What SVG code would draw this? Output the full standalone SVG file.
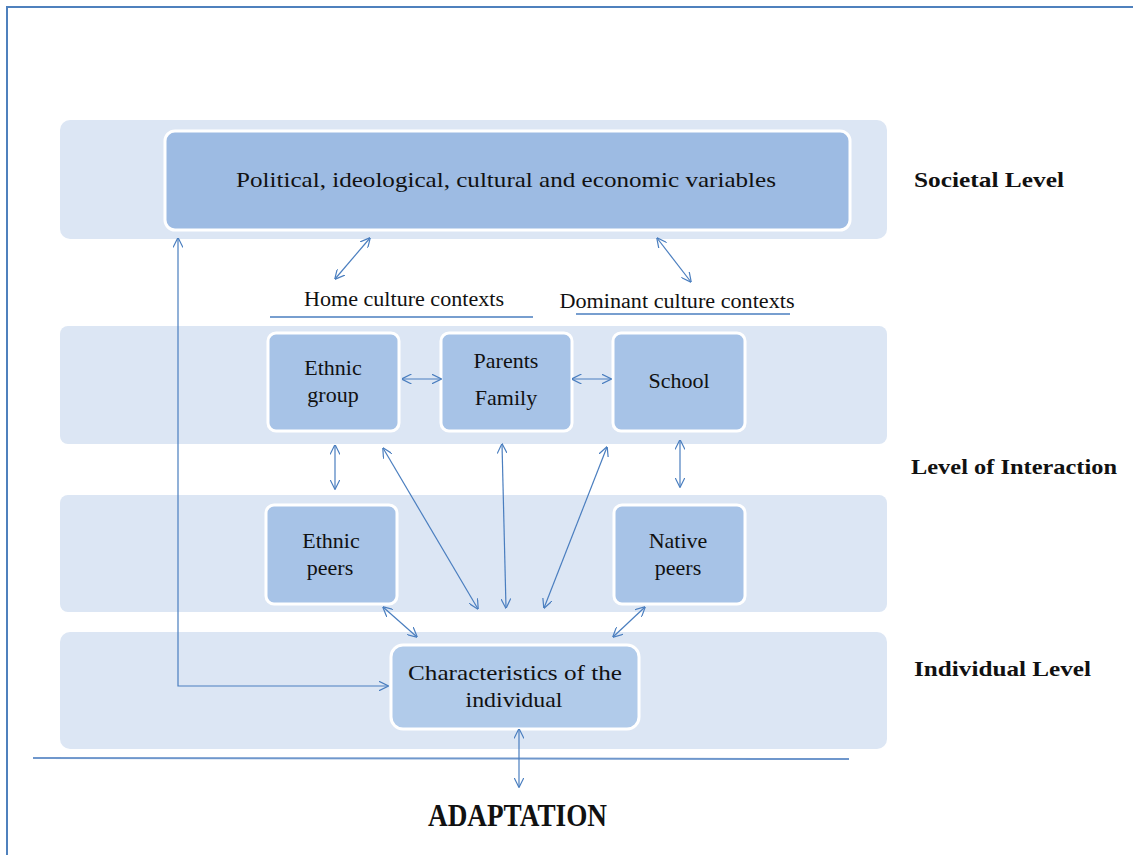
<svg xmlns="http://www.w3.org/2000/svg" width="1133" height="855" viewBox="0 0 1133 855">
<defs>
<marker id="ah" viewBox="0 0 10 10" refX="9.5" refY="5" markerWidth="10" markerHeight="10" markerUnits="userSpaceOnUse" orient="auto-start-reverse">
<path d="M0,0 L10,5 L0,10" fill="none" stroke="#4a7ebf" stroke-width="1.2"/>
</marker>
</defs>
<style>
.band{fill:#dce6f4}
.node{stroke:#ffffff;stroke-width:3}
.n1{fill:#9dbbe3}
.n2{fill:#a7c3e7}
.t{font-family:"Liberation Serif",serif;font-size:22px;fill:#111;text-anchor:middle}
.lbl{font-family:"Liberation Serif",serif;font-size:22px;font-weight:bold;fill:#111}
.c{fill:none;stroke:#4a7ebf;stroke-width:1.2;marker-start:url(#ah);marker-end:url(#ah)}
.ln{stroke:#4a7ebf;stroke-width:1.3}
</style>
<rect x="0" y="0" width="1133" height="855" fill="#ffffff"/>
<path d="M7,855 L7,7 L1133,7" fill="none" stroke="#4f81bd" stroke-width="2"/>
<g id="bands">
<rect class="band" x="60" y="120" width="827" height="119" rx="10"/>
<rect class="band" x="60" y="326" width="827" height="118" rx="8"/>
<rect class="band" x="60" y="495" width="827" height="117" rx="8"/>
<rect class="band" x="60" y="632" width="827" height="117" rx="10"/>
</g>
<line x1="33" y1="758" x2="849" y2="759" stroke="#6f97cc" stroke-width="2"/>
<g id="political">
<rect class="node n1" x="165" y="131" width="685" height="99" rx="10"/>
<text class="t" x="506" y="187" textLength="540" lengthAdjust="spacingAndGlyphs">Political, ideological, cultural and economic variables</text>
</g>
<g id="home-label">
<text class="t" x="404" y="306" style="font-size:20px" textLength="200" lengthAdjust="spacingAndGlyphs">Home culture contexts</text>
<line class="ln" x1="270" y1="317" x2="533" y2="317"/>
</g>
<g id="dominant-label">
<text class="t" x="677" y="308" style="font-size:20px" textLength="235" lengthAdjust="spacingAndGlyphs">Dominant culture contexts</text>
<line class="ln" x1="576" y1="314" x2="790" y2="314"/>
</g>
<g id="ethnic-group">
<rect class="node n2" x="268" y="333" width="131" height="98" rx="8"/>
<text class="t" x="333" y="375">Ethnic</text>
<text class="t" x="333" y="402">group</text>
</g>
<g id="parents-family">
<rect class="node n2" x="441" y="333" width="131" height="98" rx="8"/>
<text class="t" x="506" y="368">Parents</text>
<text class="t" x="506" y="405">Family</text>
</g>
<g id="school">
<rect class="node n2" x="613" y="333" width="132" height="98" rx="8"/>
<text class="t" x="679" y="388">School</text>
</g>
<g id="ethnic-peers">
<rect class="node n2" x="266" y="505" width="131" height="99" rx="8"/>
<text class="t" x="331" y="548">Ethnic</text>
<text class="t" x="330" y="575">peers</text>
</g>
<g id="native-peers">
<rect class="node n2" x="614" y="505" width="131" height="99" rx="8"/>
<text class="t" x="678" y="548">Native</text>
<text class="t" x="678" y="575">peers</text>
</g>
<g id="characteristics">
<rect class="node" fill="#b1cbea" x="391" y="645" width="248" height="84" rx="12"/>
<text class="t" x="515" y="680" textLength="214" lengthAdjust="spacingAndGlyphs">Characteristics  of the</text>
<text class="t" x="514" y="707" textLength="97" lengthAdjust="spacingAndGlyphs">individual</text>
</g>
<g id="levels">
<text class="lbl" x="914" y="187" textLength="150" lengthAdjust="spacingAndGlyphs">Societal Level</text>
<text class="lbl" x="911" y="474" textLength="206" lengthAdjust="spacingAndGlyphs">Level of Interaction</text>
<text class="lbl" x="914" y="676" textLength="177" lengthAdjust="spacingAndGlyphs">Individual  Level</text>
</g>
<text id="adaptation" class="lbl" x="428" y="826" style="font-size:32px" textLength="179" lengthAdjust="spacingAndGlyphs">ADAPTATION</text>
<g id="connectors">
<line class="c" x1="370" y1="238" x2="335" y2="279"/>
<line class="c" x1="657" y1="238" x2="691" y2="282"/>
<line class="c" x1="402" y1="379" x2="441" y2="379"/>
<line class="c" x1="572" y1="379" x2="611" y2="379"/>
<line class="c" x1="335" y1="445" x2="335" y2="489"/>
<line class="c" x1="383" y1="448" x2="478" y2="609"/>
<line class="c" x1="502" y1="444" x2="506" y2="608"/>
<line class="c" x1="607" y1="447" x2="544" y2="608"/>
<line class="c" x1="680" y1="440" x2="680" y2="487"/>
<line class="c" x1="383" y1="607" x2="417" y2="637"/>
<line class="c" x1="645" y1="607" x2="613" y2="637"/>
<polyline class="c" points="178,238 178,686 388,686"/>
<line class="c" x1="519" y1="729" x2="519" y2="787"/>
</g>
</svg>
